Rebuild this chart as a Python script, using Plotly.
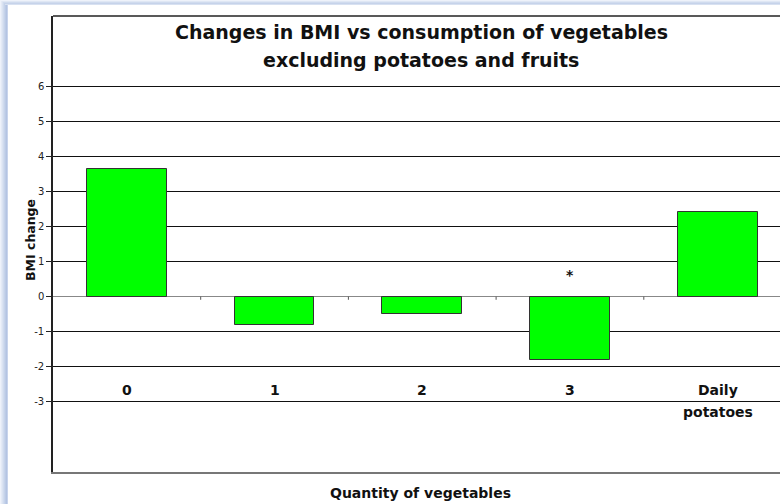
import plotly.graph_objects as go

categories = ["0", "1", "2", "3", "Daily<br>potatoes"]
bmi_change = [3.64, -0.8, -0.49, -1.8, 2.41]
significance = ["", "", "", "*", ""]
y_ticks = [-3, -2, -1, 0, 1, 2, 3, 4, 5, 6]
title_lines = ["Changes in BMI vs consumption of vegetables", "excluding potatoes and fruits"]
x_title = "Quantity of vegetables"
y_title = "BMI change"

W, H = 780, 504
ML, MT, MB, MR = 53, 16, 32, 0
pw = W - ML - MR
ph = H - MT - MB

def px_x(p):
    return (p - ML) / pw

def px_y(p):
    return (H - MB - p) / ph

xs = list(range(len(categories)))
font = "DejaVu Sans"
tc = "#111111"

fig = go.Figure()
fig.add_trace(go.Bar(
    x=xs, y=bmi_change, width=0.54,
    marker=dict(color="#00FF00", line=dict(color="#333333", width=1)),
    hoverinfo="y", showlegend=False,
))

annotations = []
for i, lab in enumerate(categories):
    for j, line in enumerate(lab.split("<br>")):
        annotations.append(dict(x=i, xref="x", y=px_y(390 + 22 * j), yref="paper",
                                text="<b>%s</b>" % line, showarrow=False,
                                yanchor="middle", xanchor="center",
                                font=dict(family=font, size=14, color=tc)))
for i, s in enumerate(significance):
    if s:
        annotations.append(dict(x=i, y=0.62, xref="x", yref="y", text="<b>%s</b>" % s,
                                showarrow=False, font=dict(family=font, size=14, color=tc)))
for j, line in enumerate(title_lines):
    annotations.append(dict(x=px_x(421), y=px_y(32 + 28 * j), xref="paper", yref="paper",
                            text="<b>%s</b>" % line, showarrow=False,
                            xanchor="center", yanchor="middle",
                            font=dict(family=font, size=19, color=tc)))
annotations.append(dict(x=px_x(420), y=px_y(493), xref="paper", yref="paper",
                        text="<b>%s</b>" % x_title, showarrow=False,
                        xanchor="center", yanchor="middle",
                        font=dict(family=font, size=14, color=tc)))
annotations.append(dict(x=px_x(30), y=px_y(240), xref="paper", yref="paper",
                        text="<b>%s</b>" % y_title, showarrow=False, textangle=-90,
                        xanchor="center", yanchor="middle",
                        font=dict(family=font, size=12.5, color=tc)))

shapes = []
for i in range(len(categories) - 1):
    shapes.append(dict(type="line", xref="x", yref="y", x0=i + 0.5, x1=i + 0.5, y0=0, y1=-0.09,
                       line=dict(color="#555555", width=1)))
shapes.append(dict(type="line", xref="paper", yref="paper", x0=0, x1=1, y0=1, y1=1,
                   line=dict(color="#222222", width=1.5)))
blues = ["#eef2fa", "#e4eaf6", "#dae3f2", "#d0dbee", "#c6d3ea", "#bccbe6", "#b4c4e2", "#c8d4ec"]
for k, c in enumerate(blues):
    shapes.append(dict(type="rect", xref="paper", yref="paper", x0=px_x(k), x1=px_x(k + 1),
                       y0=px_y(H), y1=px_y(0), fillcolor=c, line=dict(width=0), layer="above"))
tops = ["#eef2fa", "#dfe7f4", "#d0dbee", "#c6d3ea", "#d8e1f1"]
for k, c in enumerate(tops):
    shapes.append(dict(type="rect", xref="paper", yref="paper", x0=px_x(k + 1), x1=1,
                       y0=px_y(k + 1), y1=px_y(k), fillcolor=c, line=dict(width=0), layer="above"))

fig.update_layout(
    width=W, height=H,
    margin=dict(l=ML, r=MR, t=MT, b=MB, pad=0),
    paper_bgcolor="white", plot_bgcolor="white",
    bargap=0,
    xaxis=dict(range=[-0.5, (pw / 147.7) - 0.5], showticklabels=False, showgrid=False,
               zeroline=False, showline=True, linecolor="#777777", linewidth=2, ticks="",
               fixedrange=True),
    yaxis=dict(range=[-5, 8], tickvals=y_ticks, ticktext=[str(v) for v in y_ticks],
               showgrid=True, gridcolor="#111111", gridwidth=1.2,
               zeroline=True, zerolinecolor="#888888", zerolinewidth=1.2,
               showline=True, linecolor="#222222", linewidth=1.5,
               ticks="outside", ticklen=5, tickcolor="#222222",
               tickfont=dict(family=font, size=10, color="#222222"),
               fixedrange=True),
    annotations=annotations, shapes=shapes,
)

fig.write_html("out.html", config={"displayModeBar": False},
               post_script="document.body.style.margin='0';")
